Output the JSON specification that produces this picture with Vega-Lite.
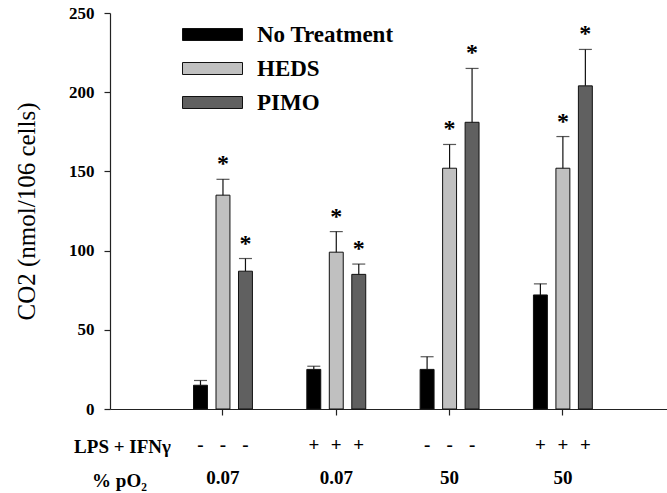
{
  "$schema": "https://vega.github.io/schema/vega-lite/v6.json",
  "width": 557,
  "height": 396,
  "autosize": {"type": "none"},
  "padding": {"left": 110, "top": 13, "right": 0, "bottom": 84},
  "background": "white",
  "config": {
    "view": {"stroke": null},
    "font": "Times New Roman",
    "axis": {"grid": false, "domainColor": "#222", "tickColor": "#222", "labelColor": "black", "titleColor": "black", "labelFont": "Times New Roman", "titleFont": "Times New Roman", "domainWidth": 1.2, "tickWidth": 1.2}
  },
  "data": {
    "values": [
      {"group": "0.07|-", "lps": "-", "treatment": "No Treatment", "value": 15, "err": 18, "sig": false},
      {"group": "0.07|-", "lps": "-", "treatment": "HEDS", "value": 135, "err": 145, "sig": true},
      {"group": "0.07|-", "lps": "-", "treatment": "PIMO", "value": 87, "err": 95, "sig": true},
      {"group": "0.07|+", "lps": "+", "treatment": "No Treatment", "value": 25, "err": 27, "sig": false},
      {"group": "0.07|+", "lps": "+", "treatment": "HEDS", "value": 99, "err": 112, "sig": true},
      {"group": "0.07|+", "lps": "+", "treatment": "PIMO", "value": 85, "err": 91.5, "sig": true},
      {"group": "50|-", "lps": "-", "treatment": "No Treatment", "value": 25, "err": 33, "sig": false},
      {"group": "50|-", "lps": "-", "treatment": "HEDS", "value": 152, "err": 167, "sig": true},
      {"group": "50|-", "lps": "-", "treatment": "PIMO", "value": 181, "err": 215, "sig": true},
      {"group": "50|+", "lps": "+", "treatment": "No Treatment", "value": 72, "err": 79, "sig": false},
      {"group": "50|+", "lps": "+", "treatment": "HEDS", "value": 152, "err": 172, "sig": true},
      {"group": "50|+", "lps": "+", "treatment": "PIMO", "value": 204, "err": 227, "sig": true}
    ]
  },
  "encoding": {
    "x": {
      "field": "group", "type": "nominal",
      "sort": ["0.07|-", "0.07|+", "50|-", "50|+"],
      "scale": {"paddingInner": 0.48, "paddingOuter": 0.698, "align": 0.528}
    },
    "xOffset": {
      "field": "treatment", "type": "nominal",
      "sort": ["No Treatment", "HEDS", "PIMO"],
      "scale": {"paddingInner": 0.38, "paddingOuter": 0}
    }
  },
  "layer": [
    {
      "mark": {"type": "bar", "stroke": "#111", "strokeWidth": 1},
      "encoding": {
        "x": {
          "field": "group", "type": "nominal",
          "sort": ["0.07|-", "0.07|+", "50|-", "50|+"],
          "scale": {"paddingInner": 0.48, "paddingOuter": 0.698, "align": 0.528},
          "axis": {
            "title": "% pO₂",
            "labelExpr": "split(datum.value, '|')[0]",
            "labelAngle": 0, "labelFontSize": 19, "labelFontWeight": "bold",
            "labelBaseline": "top", "labelPadding": 53, "tickSize": 6,
            "titleFontSize": 19, "titleFontWeight": "bold",
            "titleX": 9, "titleY": 77, "titleAlign": "center", "titleBaseline": "alphabetic"
          }
        },
        "y": {
          "field": "value", "type": "quantitative", "stack": null,
          "scale": {"domain": [0, 250], "nice": false},
          "axis": {
            "title": "CO2 (nmol/106 cells)",
            "values": [0, 50, 100, 150, 200, 250],
            "labelFontSize": 17, "labelFontWeight": "bold", "tickSize": 6, "labelPadding": 10,
            "titleFontSize": 25, "titleFontWeight": "normal",
            "titleX": -84, "titleY": 198, "titleBaseline": "middle", "titleAlign": "center"
          }
        },
        "color": {
          "field": "treatment", "type": "nominal",
          "sort": ["No Treatment", "HEDS", "PIMO"],
          "scale": {"domain": ["No Treatment", "HEDS", "PIMO"], "range": ["#000000", "#c0c0c0", "#606060"]},
          "legend": {
            "title": null, "orient": "none", "legendX": 91, "legendY": 10,
            "symbolType": "M-3,-0.6H3V0.6H-3Z", "symbolSize": 400,
            "symbolStrokeColor": "#111", "symbolStrokeWidth": 1, "symbolOpacity": 1,
            "labelFontSize": 23, "labelFontWeight": "bold", "labelFont": "Times New Roman",
            "labelColor": "black", "labelOffset": 33, "rowPadding": 10, "padding": 0
          }
        }
      }
    },
    {
      "mark": {"type": "rule", "color": "#111", "strokeWidth": 1.2},
      "encoding": {
        "x": {"field": "group", "type": "nominal", "sort": ["0.07|-", "0.07|+", "50|-", "50|+"], "axis": null},
        "y": {"field": "value", "type": "quantitative"},
        "y2": {"field": "err"}
      }
    },
    {
      "mark": {"type": "tick", "orient": "horizontal", "size": 13, "thickness": 1.2, "color": "#111"},
      "encoding": {
        "x": {"field": "group", "type": "nominal", "sort": ["0.07|-", "0.07|+", "50|-", "50|+"], "axis": null},
        "y": {"field": "err", "type": "quantitative"}
      }
    },
    {
      "transform": [{"filter": "datum.sig"}],
      "mark": {"type": "text", "text": "*", "fontSize": 24, "fontWeight": "bold", "baseline": "alphabetic", "dy": -8, "color": "black", "font": "Times New Roman"},
      "encoding": {
        "x": {"field": "group", "type": "nominal", "sort": ["0.07|-", "0.07|+", "50|-", "50|+"], "axis": null},
        "y": {"field": "err", "type": "quantitative"}
      }
    },
    {
      "mark": {"type": "text", "fontSize": 19, "fontWeight": "bold", "baseline": "middle", "color": "black", "font": "Times New Roman"},
      "encoding": {
        "x": {
          "field": "group", "type": "nominal", "sort": ["0.07|-", "0.07|+", "50|-", "50|+"],
          "axis": {
            "orient": "bottom", "domain": false, "ticks": false, "labels": false,
            "title": "LPS + IFNγ", "titleFontSize": 19, "titleFontWeight": "bold", "titleFont": "Times New Roman",
            "titleX": 12, "titleY": 43, "titleAlign": "center", "titleBaseline": "alphabetic"
          }
        },
        "y": {"datum": -23},
        "text": {"field": "lps"}
      }
    }
  ],
  "resolve": {"axis": {"x": "independent"}}
}
